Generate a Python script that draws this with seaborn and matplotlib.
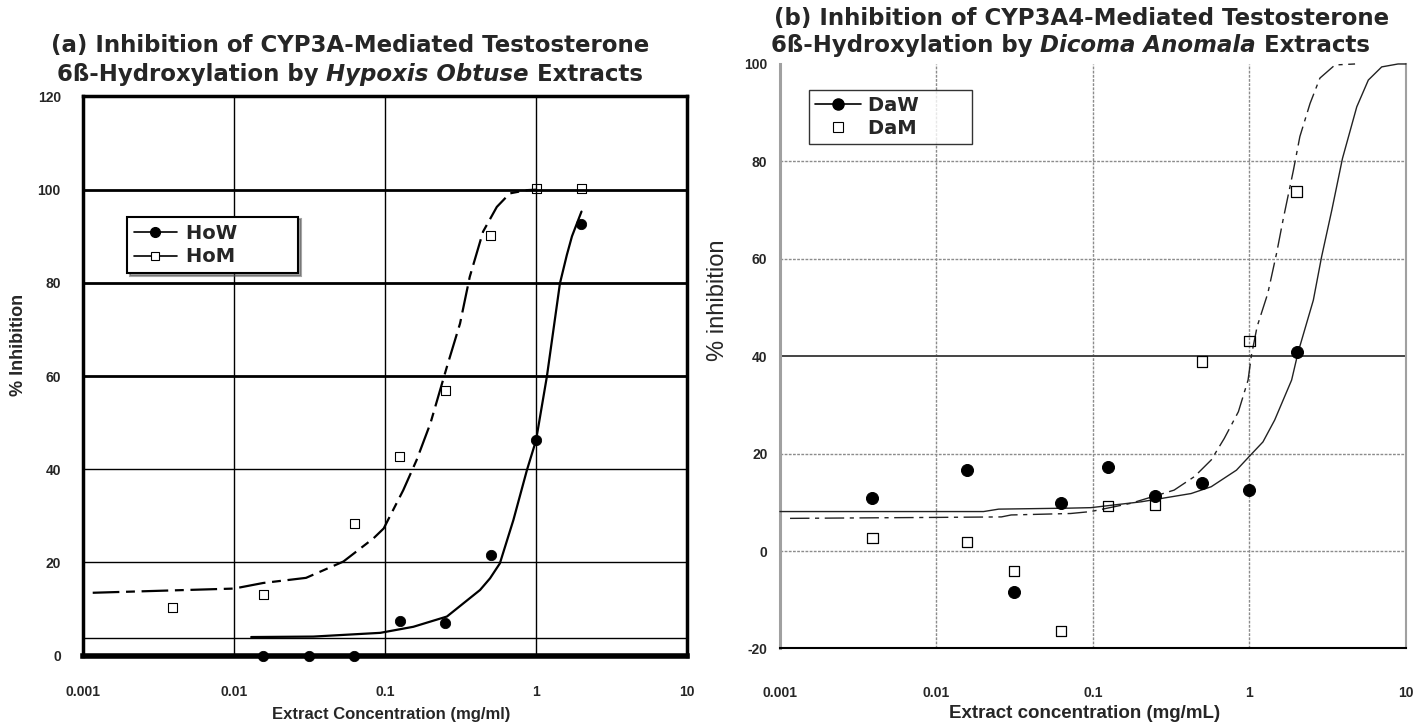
import seaborn as sns
import matplotlib.pyplot as plt
from matplotlib.lines import Line2D
from matplotlib.ticker import NullLocator

# ---- panel (a): Hypoxis obtuse ----
conc_how = [0.0156, 0.03125, 0.0625, 0.125, 0.25, 0.5, 1, 2]
inh_how = [0, 0, 0, 7.5, 7.1, 21.5, 46.2, 92.6]
conc_hom = [0.0039, 0.0156, 0.0625, 0.125, 0.25, 0.5, 1, 2]
inh_hom = [10.4, 13.1, 28.3, 42.7, 56.8, 90.1, 100.2, 100.2]

# fitted curves
fit_x_how = [0.013, 0.0335, 0.093, 0.154, 0.257, 0.426, 0.496, 0.576, 0.708, 0.87,
             1.0, 1.18, 1.44, 1.6, 1.73, 2.0]
fit_y_how = [4.0, 4.1, 4.9, 6.2, 8.4, 14.1, 16.6, 19.8, 29.1, 39.8,
             46.2, 59.9, 79.9, 86.0, 90.0, 95.3]
fit_x_hom = [0.00116, 0.01, 0.0156, 0.030, 0.053, 0.084, 0.098, 0.132, 0.162, 0.2,
             0.257, 0.314, 0.364, 0.446, 0.55, 0.67, 0.87, 1.0]
fit_y_hom = [13.5, 14.4, 15.6, 16.7, 20.2, 25.2, 27.3, 35.5, 42.0, 49.9,
             62.0, 71.3, 81.3, 91.0, 96.3, 99.2, 99.9, 100.0]
baseline_a = 3.7

# ---- panel (b): Dicoma anomala ----
conc_da = [0.0039, 0.0156, 0.03125, 0.0625, 0.125, 0.25, 0.5, 1, 2]
inh_daw = [10.8, 16.6, -8.5, 9.8, 17.3, 11.2, 14.0, 12.5, 40.9]
inh_dam = [2.7, 1.9, -4.1, -16.4, 9.2, 9.4, 38.9, 43.1, 73.8]

fit_x_daw = [0.001, 0.02, 0.025, 0.07, 0.097, 0.203, 0.424, 0.57, 0.826, 1.03, 1.22,
             1.45, 1.86, 2.05, 2.56, 2.89, 3.36, 3.93, 4.85, 5.75, 7.0, 8.9, 10]
fit_y_daw = [8.1, 8.1, 8.6, 8.8, 8.9, 10.1, 11.8, 13.2, 16.6, 19.9, 22.4,
             26.9, 35.1, 40.9, 51.5, 60.4, 70.0, 80.6, 91.2, 96.7, 99.4, 100, 100]
fit_x_dam = [0.00116, 0.01, 0.026, 0.03, 0.072, 0.097, 0.175, 0.33, 0.446, 0.57, 0.69,
             0.85, 0.98, 1.03, 1.12, 1.31, 1.49, 1.64, 1.91, 2.1, 2.44, 2.82, 3.52, 4.73]
fit_y_dam = [6.7, 6.9, 7.0, 7.4, 7.7, 8.1, 9.8, 12.5, 15.3, 18.7, 23.1,
             28.6, 35.1, 40.2, 46.1, 52.9, 61.1, 68.0, 78.2, 85.1, 91.9, 97.1, 99.8, 100.0]

xticks = [0.001, 0.01, 0.1, 1, 10]
xtick_labels = ["0.001", "0.01", "0.1", "1", "10"]
yticks_a = [0, 20, 40, 60, 80, 100, 120]
yticks_b = [-20, 0, 20, 40, 60, 80, 100]

sns.set_style("white")
plt.rcParams["font.family"] = ["Liberation Sans", "DejaVu Sans"]
plt.rcParams["axes.unicode_minus"] = False

fig = plt.figure(figsize=(14.16, 7.27), dpi=100)
ax1 = fig.add_axes([0.0586, 0.0981, 0.4266, 0.7692])
ax2 = fig.add_axes([0.5508, 0.1081, 0.4421, 0.8039])
for ax in (ax1, ax2):
    ax.set_xscale("log")


def title_line(xc, y, parts, size=16.5):
    r = fig.canvas.get_renderer()
    items = [fig.text(0, y, s, fontsize=size, fontweight="bold", fontstyle=st,
                      family="DejaVu Sans", va="center", ha="left") for s, st in parts]
    widths = [t.get_window_extent(r).width / fig.bbox.width for t in items]
    x = xc - sum(widths) / 2
    for t, w in zip(items, widths):
        t.set_x(x)
        x += w


# ---------------- panel (a) ----------------
ax1.axhline(baseline_a, color="black", linewidth=1, zorder=1)
sns.lineplot(x=fit_x_how, y=fit_y_how, ax=ax1, color="black", linewidth=1.6,
             sort=False, estimator=None, zorder=3)
sns.lineplot(x=fit_x_hom, y=fit_y_hom, ax=ax1, color="black", linewidth=1.6,
             sort=False, estimator=None, linestyle=(0, (12, 3, 4, 3)), zorder=3)
sns.scatterplot(x=conc_how, y=inh_how, ax=ax1, marker="o", s=55, color="black",
                edgecolor="black", clip_on=False, zorder=5)
sns.scatterplot(x=conc_hom, y=inh_hom, ax=ax1, marker="s", s=42, facecolor="none",
                edgecolor="black", linewidth=0.8, clip_on=False, zorder=5)

ax1.set_xlim(0.001, 10)
ax1.set_ylim(0, 120)
ax1.set_xticks(xticks, xtick_labels)
ax1.xaxis.set_minor_locator(NullLocator())
ax1.set_yticks(yticks_a)
ax1.grid(True, which="major", color="black", linewidth=1)
for v, tk in zip(yticks_a, ax1.yaxis.get_major_ticks()):
    if v in (60, 80, 100):
        tk.gridline.set_linewidth(2)
ax1.tick_params(axis="x", length=0, labelsize=10, pad=21)
ax1.tick_params(axis="y", length=0, labelsize=10, pad=16)
for sp in ax1.spines.values():
    sp.set_color("black")
    sp.set_linewidth(2.5)
ax1.spines["bottom"].set_linewidth(4)

ax1.set_xlabel("Extract Concentration (mg/ml)", fontsize=12, fontweight="bold")
ax1.xaxis.set_label_coords(0.51, -0.092)
ax1.set_ylabel("% Inhibition", fontsize=13, fontweight="bold")
ax1.yaxis.set_label_coords(-0.093, 0.556)

h_a = [Line2D([0], [0], color="black", linewidth=1.2, marker="o", markersize=7),
       Line2D([0], [0], color="black", linewidth=1.2, marker="s", markersize=6,
              markerfacecolor="white", markeredgewidth=0.8)]
leg = ax1.legend(h_a, ["HoW        ", "HoM        "], loc="upper left",
                 bbox_to_anchor=(0.073, 0.785), borderaxespad=0, frameon=True,
                 fancybox=False, shadow=True, handlelength=2.2, handletextpad=0.5,
                 borderpad=0.35, labelspacing=0.25,
                 prop=dict(family="DejaVu Sans", weight="bold", size=14))
leg.get_frame().set_edgecolor("black")
leg.get_frame().set_linewidth(1.5)

# ---------------- panel (b) ----------------
sns.lineplot(x=fit_x_daw, y=fit_y_daw, ax=ax2, color="#222222", linewidth=1.0,
             sort=False, estimator=None, clip_on=False, zorder=3)
sns.lineplot(x=fit_x_dam, y=fit_y_dam, ax=ax2, color="#222222", linewidth=1.0,
             sort=False, estimator=None, linestyle=(0, (14, 4, 3, 4)),
             clip_on=False, zorder=3)
sns.scatterplot(x=conc_da, y=inh_daw, ax=ax2, marker="o", s=75, color="black",
                edgecolor="black", zorder=5)
sns.scatterplot(x=conc_da, y=inh_dam, ax=ax2, marker="s", s=55, facecolor="none",
                edgecolor="black", linewidth=0.9, zorder=5)

ax2.set_xlim(0.001, 10)
ax2.set_ylim(-20, 100)
ax2.set_xticks(xticks, xtick_labels)
ax2.xaxis.set_minor_locator(NullLocator())
ax2.set_yticks(yticks_b)
ax2.grid(True, which="major", color="#8c8c8c", linewidth=1, linestyle=(0, (2, 1)))
for v, tk in zip(yticks_b, ax2.yaxis.get_major_ticks()):
    if v == 40:
        tk.gridline.set_color("#444444")
        tk.gridline.set_linestyle("-")
        tk.gridline.set_linewidth(1.4)
    if v == 100:
        tk.gridline.set_visible(False)
ax2.tick_params(axis="x", length=0, labelsize=10, pad=27)
ax2.tick_params(axis="y", length=0, labelsize=10, pad=9)
ax2.spines["top"].set_visible(False)
ax2.spines["left"].set_color("#a0a0a0")
ax2.spines["left"].set_linewidth(2.2)
ax2.spines["right"].set_color("#a0a0a0")
ax2.spines["right"].set_linewidth(1.5)
ax2.spines["bottom"].set_color("black")
ax2.spines["bottom"].set_linewidth(1.5)

ax2.set_xlabel("Extract concentration (mg/mL)", fontsize=13.5, fontweight="bold")
ax2.xaxis.set_label_coords(0.487, -0.097)
ax2.set_ylabel("% inhibition", fontsize=17)
ax2.yaxis.set_label_coords(-0.0815, 0.596)

h_b = [Line2D([0], [0], color="black", linewidth=1.2, marker="o", markersize=8),
       Line2D([0], [0], color="none", marker="s", markersize=7,
              markerfacecolor="white", markeredgecolor="black", markeredgewidth=0.8)]
leg2 = ax2.legend(h_b, ["DaW       ", "DaM       "], loc="upper left",
                  bbox_to_anchor=(0.046, 0.9555), borderaxespad=0, frameon=True,
                  fancybox=False, shadow=False, handlelength=2.4, handletextpad=0.35,
                  borderpad=0.3, labelspacing=0.2,
                  prop=dict(family="DejaVu Sans", weight="bold", size=14))
leg2.get_frame().set_edgecolor("black")
leg2.get_frame().set_linewidth(1.0)

for ax in (ax1, ax2):
    for lab in ax.get_xticklabels() + ax.get_yticklabels():
        lab.set_fontweight("bold")

# titles
title_line(0.247, 0.938, [("(a) Inhibition of CYP3A-Mediated Testosterone", "normal")])
title_line(0.247, 0.897, [("6ß-Hydroxylation by", "normal"),
                          (" Hypoxis Obtuse", "italic"), (" Extracts", "normal")])
title_line(0.764, 0.975, [("(b) Inhibition of CYP3A4-Mediated Testosterone", "normal")])
title_line(0.756, 0.938, [("6ß-Hydroxylation by", "normal"),
                          (" Dicoma Anomala", "italic"), (" Extracts", "normal")])

fig.savefig("out.png", dpi=100)
